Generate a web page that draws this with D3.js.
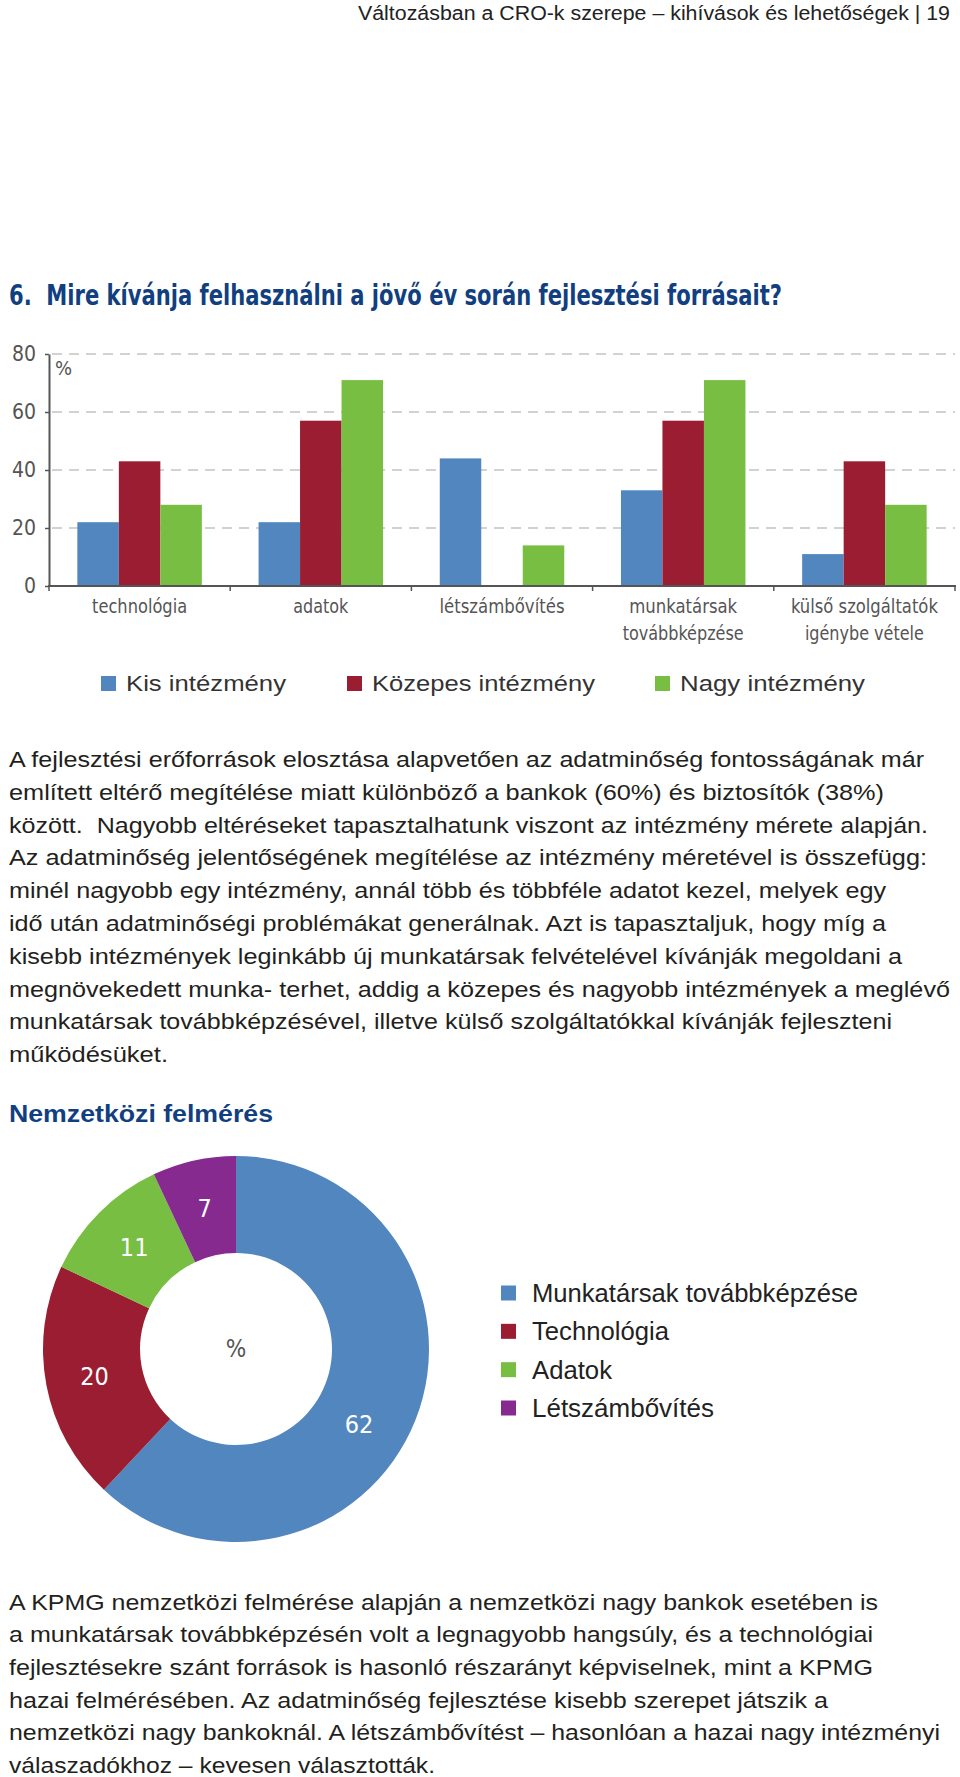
<!DOCTYPE html>
<html><head><meta charset="utf-8">
<script src="https://cdn.jsdelivr.net/npm/d3@7"></script>
<style>
body{margin:0;background:#fff}
svg{display:block}
.cond{font-family:"Liberation Sans Narrow","DejaVu Sans Condensed","Roboto Condensed","Liberation Sans",sans-serif;font-stretch:condensed}
.body{font-family:"Liberation Sans",Arial,sans-serif}
</style>
</head><body>
<svg id="c" width="960" height="1777"></svg>
<script>
// ---------- data ----------
const categories = ["technológia","adatok","létszámbővítés","munkatársak továbbképzése","külső szolgáltatók igénybe vétele"];
const categoryLines = [["technológia"],["adatok"],["létszámbővítés"],["munkatársak","továbbképzése"],["külső szolgáltatók","igénybe vétele"]];
const seriesNames = ["Kis intézmény","Közepes intézmény","Nagy intézmény"];
const kisValues = [22,22,44,33,11];
const kozepesValues = [43,57,0,57,43];
const nagyValues = [28,71,14,71,28];
const yTicks = [0,20,40,60,80];
const donutLabels = ["Munkatársak továbbképzése","Technológia","Adatok","Létszámbővítés"];
const donutValues = [62,20,11,7];

const headerText = "Változásban a CRO-k szerepe – kihívások és lehetőségek | 19";
const titleText = "6.  Mire kívánja felhasználni a jövő év során fejlesztési forrásait?";
const subtitleText = "Nemzetközi felmérés";
const para1 = [
 "A fejlesztési erőforrások elosztása alapvetően az adatminőség fontosságának már",
 "említett eltérő megítélése miatt különböző a bankok (60%) és biztosítók (38%)",
 "között.  Nagyobb eltéréseket tapasztalhatunk viszont az intézmény mérete alapján.",
 "Az adatminőség jelentőségének megítélése az intézmény méretével is összefügg:",
 "minél nagyobb egy intézmény, annál több és többféle adatot kezel, melyek egy",
 "idő után adatminőségi problémákat generálnak. Azt is tapasztaljuk, hogy míg a",
 "kisebb intézmények leginkább új munkatársak felvételével kívánják megoldani a",
 "megnövekedett munka- terhet, addig a közepes és nagyobb intézmények a meglévő",
 "munkatársak továbbképzésével, illetve külső szolgáltatókkal kívánják fejleszteni",
 "működésüket."
];
const para2 = [
 "A KPMG nemzetközi felmérése alapján a nemzetközi nagy bankok esetében is",
 "a munkatársak továbbképzésén volt a legnagyobb hangsúly, és a technológiai",
 "fejlesztésekre szánt források is hasonló részarányt képviselnek, mint a KPMG",
 "hazai felmérésében. Az adatminőség fejlesztése kisebb szerepet játszik a",
 "nemzetközi nagy bankoknál. A létszámbővítést – hasonlóan a hazai nagy intézményi",
 "válaszadókhoz – kevesen választották."
];

// ---------- styles / layout ----------
const barColors = ["#5286bf","#9b1d32","#77be43"];
const donutColors = ["#5286bf","#9b1d32","#77be43","#862a90"];
const navy = "#113f80";
const para1Widths = [915,875,919,918,877,877,893,941,883,159];
const para2Widths = [869,864,864,819,931,426];
const catLabelWidths = [[95],[55],[125],[108,121],[147,119]];

const svg = d3.select("#c");
svg.append("rect").attr("width",960).attr("height",1777).attr("fill","#fff");

// header
svg.append("text").attr("class","body").attr("x",950).attr("y",20)
  .attr("text-anchor","end").attr("font-size",20).attr("fill","#222")
  .attr("textLength",592).attr("lengthAdjust","spacingAndGlyphs").text(headerText);

// title
svg.append("text").attr("class","cond").attr("x",9).attr("y",305)
  .attr("font-size",28).attr("font-weight","bold").attr("fill",navy)
  .style("white-space","pre")
  .attr("textLength",773).attr("lengthAdjust","spacingAndGlyphs").text(titleText);

// ---------- bar chart ----------
const x0 = d3.scaleBand().domain(categories).range([49,955]).paddingInner(0.313).paddingOuter(0.1565);
const x1 = d3.scaleBand().domain(seriesNames).range([0,x0.bandwidth()]);
const y = d3.scaleLinear().domain([0,80]).range([586,354]);
const series = [kisValues,kozepesValues,nagyValues];

const g = svg.append("g");
// gridlines
g.selectAll(".grid").data(yTicks.filter(t=>t>0)).join("line")
  .attr("x1",52).attr("x2",955).attr("y1",d=>y(d)).attr("y2",d=>y(d))
  .attr("stroke","#c4c4c4").attr("stroke-width",1.5).attr("stroke-dasharray","10,7");

// bars
categories.forEach((c,i)=>{
  seriesNames.forEach((s,j)=>{
    const v = series[j][i];
    if(v>0) g.append("rect").attr("x",x0(c)+x1(s)).attr("width",x1.bandwidth())
      .attr("y",y(v)).attr("height",y(0)-y(v)).attr("fill",barColors[j]);
  });
});

// y axis
const yAxis = g.append("g").attr("transform","translate(49,0)")
  .call(d3.axisLeft(y).tickValues(yTicks).tickSize(4).tickSizeOuter(0).tickPadding(9));
yAxis.select(".domain").attr("stroke","#555").attr("stroke-width",2);
yAxis.selectAll(".tick line").attr("stroke","#555").attr("stroke-width",1.5);
yAxis.selectAll("text").attr("class","cond").attr("font-size",21).attr("fill","#555");

// x axis line & boundary ticks
g.append("line").attr("x1",48).attr("x2",956).attr("y1",y(0)).attr("y2",y(0))
  .attr("stroke","#555").attr("stroke-width",2);
g.selectAll(".xb").data(d3.range(categories.length+1)).join("line")
  .attr("x1",i=>x0.range()[0]+i*x0.step()).attr("x2",i=>x0.range()[0]+i*x0.step())
  .attr("y1",y(0)).attr("y2",y(0)+5).attr("stroke","#555").attr("stroke-width",1.5);

// category labels
categories.forEach((c,i)=>{
  categoryLines[i].forEach((ln,k)=>{
    g.append("text").attr("class","cond").attr("x",x0(c)+x0.bandwidth()/2).attr("y",613+k*27)
      .attr("text-anchor","middle").attr("font-size",20).attr("fill","#555")
      .attr("textLength",catLabelWidths[i][k]).attr("lengthAdjust","spacingAndGlyphs").text(ln);
  });
});
// % unit
g.append("text").attr("class","cond").attr("x",55).attr("y",375).attr("font-size",20).attr("fill","#555").text("%");

// legend
const legX = [101,347,655], legW = [160,223,185];
seriesNames.forEach((s,j)=>{
  svg.append("rect").attr("x",legX[j]).attr("y",676).attr("width",15).attr("height",15).attr("fill",barColors[j]);
  svg.append("text").attr("class","body").attr("x",legX[j]+25).attr("y",691).attr("font-size",22).attr("fill","#333")
    .attr("textLength",legW[j]).attr("lengthAdjust","spacingAndGlyphs").text(s);
});

// paragraph 1
para1.forEach((ln,i)=>{
  svg.append("text").attr("class","body").attr("x",9).attr("y",767+i*32.8).attr("font-size",22).attr("fill","#231f20")
    .style("white-space","pre")
    .attr("textLength",para1Widths[i]).attr("lengthAdjust","spacingAndGlyphs").text(ln);
});

// subtitle
svg.append("text").attr("class","body").attr("x",9).attr("y",1122).attr("font-size",24).attr("font-weight","bold").attr("fill",navy)
  .attr("textLength",264).attr("lengthAdjust","spacingAndGlyphs").text(subtitleText);

// ---------- donut ----------
const cx = 236, cy = 1349;
const pie = d3.pie().sort(null).value(d=>d);
const arcs = pie(donutValues);
const arc = d3.arc().innerRadius(96).outerRadius(193);
const dg = svg.append("g").attr("transform",`translate(${cx},${cy})`);
dg.selectAll("path").data(arcs).join("path").attr("d",arc).attr("fill",(d,i)=>donutColors[i]);
const labelShift = [0.17,0,0,0];
dg.selectAll(".lbl").data(arcs).join("text").attr("class","cond")
  .attr("transform",(d,i)=>{
    const a = (d.startAngle+d.endAngle)/2 + labelShift[i];
    const r = 144;
    return `translate(${r*Math.sin(a)},${-r*Math.cos(a)})`;
  })
  .attr("text-anchor","middle").attr("dy","0.35em").attr("font-size",25).attr("fill","#fff")
  .text(d=>d.data);
dg.append("text").attr("class","cond").attr("text-anchor","middle").attr("dy","0.35em")
  .attr("font-size",24).attr("fill","#555").text("%");

// donut legend
const ly = d3.scalePoint().domain(donutLabels).range([1293,1408]);
const dLegW = [326,137,80,182];
donutLabels.forEach((l,i)=>{
  svg.append("rect").attr("x",501).attr("y",ly(l)-7.5).attr("width",15).attr("height",15).attr("fill",donutColors[i]);
  svg.append("text").attr("class","body").attr("x",532).attr("y",ly(l)+9).attr("font-size",26).attr("fill","#222")
    .attr("textLength",dLegW[i]).attr("lengthAdjust","spacingAndGlyphs").text(l);
});

// paragraph 2
para2.forEach((ln,i)=>{
  svg.append("text").attr("class","body").attr("x",9).attr("y",1609.5+i*32.7).attr("font-size",22).attr("fill","#231f20")
    .attr("textLength",para2Widths[i]).attr("lengthAdjust","spacingAndGlyphs").text(ln);
});
</script>
</body></html>
